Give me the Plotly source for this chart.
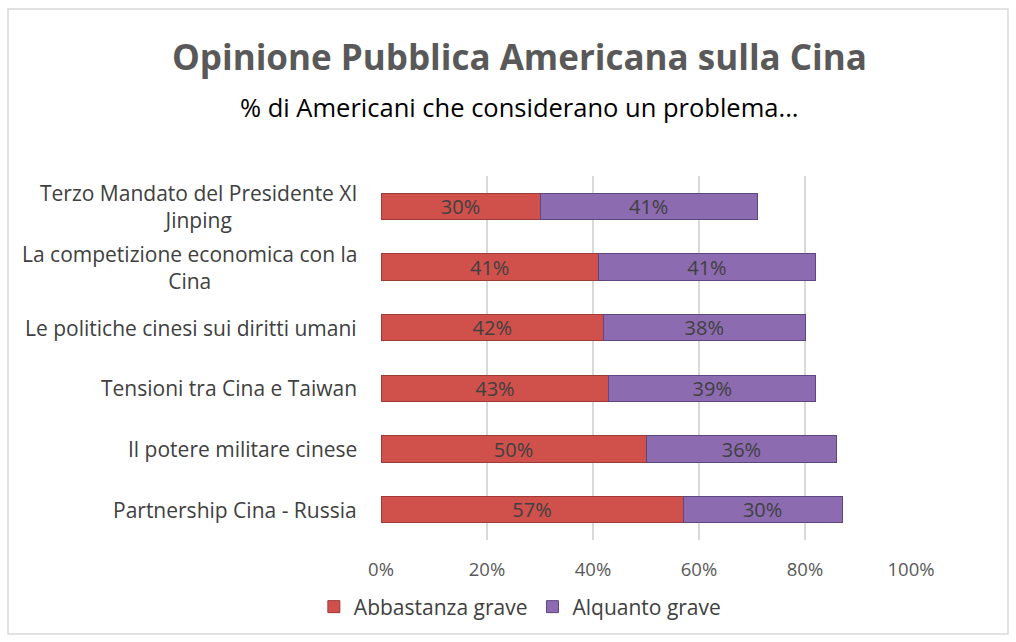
import plotly.graph_objects as go

categories = [
    "Terzo Mandato del Presidente XI<br>Jinping",
    "La competizione economica con la<br>Cina",
    "Le politiche cinesi sui diritti umani",
    "Tensioni tra Cina e Taiwan",
    "Il potere militare cinese",
    "Partnership Cina - Russia",
]
abbastanza = [30, 41, 42, 43, 50, 57]
alquanto = [41, 41, 38, 39, 36, 30]
tick_vals = [0, 20, 40, 60, 80, 100]
tick_text = ["0%", "20%", "40%", "60%", "80%", "100%"]

FONT = "Open Sans"

fig = go.Figure()
fig.add_trace(go.Bar(
    y=categories, x=abbastanza, orientation="h", name="Abbastanza grave",
    marker=dict(color="#D0504C", line=dict(color="#9E3A37", width=1)),
    text=[f"{v}%" for v in abbastanza], textposition="inside", constraintext="none",
    insidetextanchor="middle", textfont=dict(color="#404040", size=20, family=FONT),
))
fig.add_trace(go.Bar(
    y=categories, x=alquanto, orientation="h", name="Alquanto grave",
    marker=dict(color="#8C6BB1", line=dict(color="#5E4680", width=1)),
    text=[f"{v}%" for v in alquanto], textposition="inside", constraintext="none",
    insidetextanchor="middle", textfont=dict(color="#404040", size=20, family=FONT),
))

annotations = [
    dict(text="<b>Opinione Pubblica Americana sulla Cina</b>", xref="paper", yref="paper",
         x=0.262, y=1.327, xanchor="center", yanchor="middle", showarrow=False,
         font=dict(size=35, color="#595959", family=FONT)),
    dict(text="% di Americani che considerano un problema...", xref="paper", yref="paper",
         x=0.262, y=1.19, xanchor="center", yanchor="middle", showarrow=False,
         font=dict(size=25.5, color="#000000", family=FONT)),
]
for c in categories:
    annotations.append(dict(text=c, xref="paper", yref="y", x=0, y=c, xshift=-22,
                            xanchor="right", yanchor="middle", align="center", showarrow=False,
                            font=dict(size=21, color="#404040", family=FONT)))

fig.update_layout(
    barmode="stack",
    bargap=0.57,
    width=1016, height=642,
    margin=dict(l=381, r=105, t=176, b=102),
    paper_bgcolor="white", plot_bgcolor="white",
    font=dict(family=FONT, color="#595959", size=18),
    showlegend=True,
    uniformtext=dict(minsize=20, mode="show"),
    legend=dict(orientation="h", x=0.262, y=-0.184, xanchor="center", yanchor="middle",
                font=dict(size=21, color="#404040", family=FONT), itemwidth=30,
                traceorder="normal"),
    annotations=annotations,
    shapes=[dict(type="rect", xref="paper", yref="paper", x0=-0.7038, x1=1.183,
                 y0=-0.258, y1=1.459, line=dict(color="#D9D9D9", width=1.5), layer="below")],
)
fig.update_xaxes(range=[0, 100], tickvals=tick_vals, ticktext=tick_text,
                 showgrid=True, gridcolor="#D9D9D9", gridwidth=1.5, zeroline=False,
                 showline=False, ticks="", ticklabelstandoff=16,
                 tickfont=dict(size=18.5, color="#595959"))
fig.update_yaxes(autorange="reversed", showticklabels=False, showgrid=False, ticks="",
                 showline=False)

fig.write_html("out.html", config={"displayModeBar": False},
               post_script="document.body.style.margin='0';")
